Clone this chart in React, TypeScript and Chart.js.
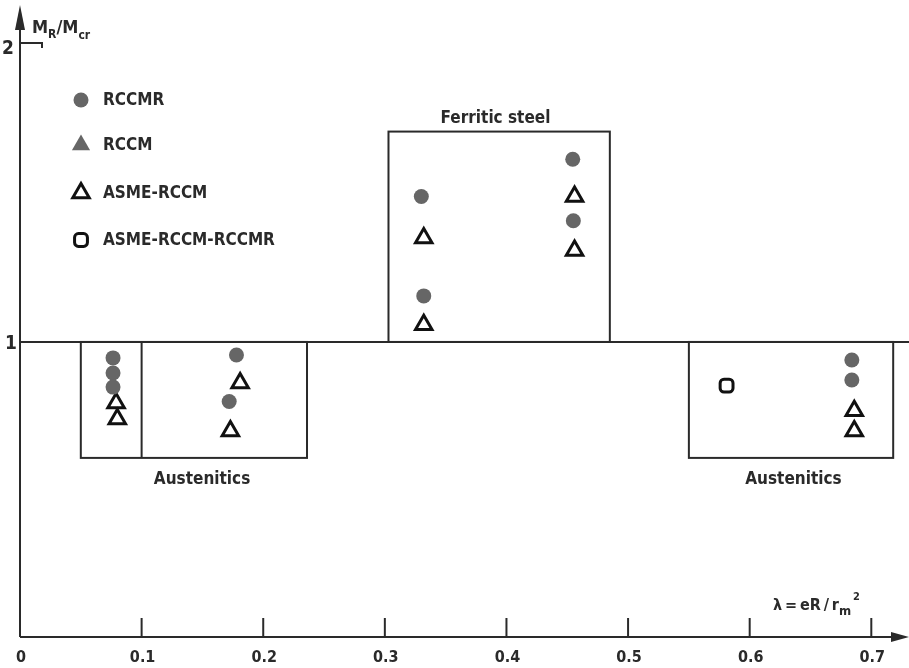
import React, { useEffect, useRef } from 'react';
import { Chart, registerables } from 'chart.js';
import { drawPoint } from 'chart.js/helpers';

Chart.register(...registerables);

// ---- data ----
const rccmrX = [0.0765, 0.0765, 0.0765, 0.178, 0.172, 0.330, 0.332, 0.4545, 0.455, 0.684, 0.684];
const rccmrY = [0.946, 0.895, 0.847, 0.956, 0.798, 1.493, 1.156, 1.619, 1.411, 0.939, 0.871];

const rccmX: number[] = [];
const rccmY: number[] = [];

const asmeX = [0.079, 0.080, 0.181, 0.173, 0.332, 0.332, 0.456, 0.456, 0.686, 0.686];
const asmeY = [0.793, 0.739, 0.861, 0.698, 1.352, 1.058, 1.493, 1.310, 0.767, 0.698];

const allX = [0.581];
const allY = [0.852];

const seriesNames = ['RCCMR', 'RCCM', 'ASME-RCCM', 'ASME-RCCM-RCCMR'];

// region boxes (data units)
const boxX0 = [0.05, 0.303, 0.55];
const boxX1 = [0.236, 0.485, 0.718];
const boxY0 = [0.607, 1.0, 0.607];
const boxY1 = [1.0, 1.713, 1.0];
const dividerX = [0.1];
const dividerY0 = [0.607];
const dividerY1 = [1.0];

const regionLabels = ['Austenitics', 'Ferritic steel', 'Austenitics'];
const regionLabelX = [0.1497, 0.391, 0.636];
const regionLabelY = [0.535, 1.756, 0.535];

const referenceY = 1;

const xTickValues = [0, 0.1, 0.2, 0.3, 0.4, 0.5, 0.6, 0.7];
const xTickLabels = ['0', '0.1', '0.2', '0.3', '0.4', '0.5', '0.6', '0.7'];
const yTickValues = [1, 2];
const yTickLabels = ['1', '2'];

const X_MAX = 0.731;
const Y_MAX = 2.142;

const INK = '#2a2a2a';
const DOT = '#666666';
const FONT = '"DejaVu Sans Condensed", "DejaVu Sans", sans-serif';

const toPts = (xs: number[], ys: number[]) => xs.map((v, i) => ({ x: v, y: ys[i] }));

const paperPlugin = {
  id: 'paper',
  beforeDatasetsDraw(chart: any) {
    const { ctx, chartArea, scales } = chart;
    const xs = scales.x;
    const ys = scales.y;
    const px = (v: number) => xs.getPixelForValue(v);
    const py = (v: number) => ys.getPixelForValue(v);
    const line = (a: number, b: number, c: number, d: number) => {
      ctx.beginPath();
      ctx.moveTo(a, b);
      ctx.lineTo(c, d);
      ctx.stroke();
    };
    ctx.save();
    ctx.strokeStyle = INK;
    ctx.fillStyle = INK;
    ctx.lineWidth = 2;
    ctx.lineCap = 'butt';

    // reference line at 1
    line(px(0), py(referenceY), chartArea.right, py(referenceY));

    // boxes
    for (let i = 0; i < boxX0.length; i++) {
      const l = px(boxX0[i]);
      const r = px(boxX1[i]);
      const t = py(boxY1[i]);
      const b = py(boxY0[i]);
      ctx.strokeRect(l, t, r - l, b - t);
    }
    for (let i = 0; i < dividerX.length; i++) {
      line(px(dividerX[i]), py(dividerY0[i]), px(dividerX[i]), py(dividerY1[i]));
    }

    // axes
    const ox = px(0);
    const oy = py(0);
    line(ox, oy, chartArea.right - 10, oy);
    line(ox, oy, ox, chartArea.top + 12);
    // arrow heads
    ctx.beginPath();
    ctx.moveTo(chartArea.right, oy);
    ctx.lineTo(chartArea.right - 18, oy - 5);
    ctx.lineTo(chartArea.right - 18, oy + 5);
    ctx.closePath();
    ctx.fill();
    ctx.beginPath();
    ctx.moveTo(ox, chartArea.top);
    ctx.lineTo(ox - 5, chartArea.top + 25);
    ctx.lineTo(ox + 5, chartArea.top + 25);
    ctx.closePath();
    ctx.fill();

    // x ticks (pointing up)
    xTickValues.forEach((v) => {
      if (v > 0) line(px(v), oy, px(v), oy - 19);
    });
    // y tick at 2 with a small hook
    const y2 = py(2) - 4;
    ctx.beginPath();
    ctx.moveTo(ox, y2);
    ctx.lineTo(ox + 22, y2);
    ctx.lineTo(ox + 22, y2 + 5);
    ctx.stroke();

    // tick labels
    ctx.font = `bold 16px ${FONT}`;
    ctx.textAlign = 'center';
    ctx.textBaseline = 'middle';
    xTickValues.forEach((v, i) => {
      ctx.fillText(xTickLabels[i], px(v) + 1, oy + 21);
    });
    ctx.font = `bold 19px ${FONT}`;
    ctx.textAlign = 'right';
    yTickValues.forEach((v, i) => {
      ctx.fillText(yTickLabels[i], ox - (v === 2 ? 6 : 3), py(v) + 2);
    });

    // region labels
    ctx.font = `bold 17px ${FONT}`;
    ctx.textAlign = 'center';
    regionLabels.forEach((t, i) => {
      ctx.fillText(t, px(regionLabelX[i]), py(regionLabelY[i]));
    });

    // y axis title M_R/M_cr
    ctx.textAlign = 'left';
    ctx.textBaseline = 'alphabetic';
    let cx = ox + 12;
    const base = 33;
    const big = `bold 18px ${FONT}`;
    const small = `bold 12px ${FONT}`;
    const seg = (t: string, f: string, dy: number) => {
      ctx.font = f;
      ctx.fillText(t, cx, base + dy);
      cx += ctx.measureText(t).width;
    };
    seg('M', big, 0);
    seg('R', small, 5);
    seg('/', big, 0);
    seg('M', big, 0);
    seg('cr', small, 6);

    // x axis title λ = eR / r_m²
    cx = 773;
    const seg2 = (t: string, f: string, y: number) => {
      ctx.font = f;
      ctx.fillText(t, cx, y);
      cx += ctx.measureText(t).width;
    };
    seg2('λ\u2009=\u2009eR\u2009/\u2009r', `bold 16px ${FONT}`, 610);
    seg2('m', `bold 13px ${FONT}`, 615);
    cx += 2;
    seg2('2', `bold 11px ${FONT}`, 600);

    ctx.restore();
  },
  afterDatasetsDraw(chart: any) {
    const { ctx } = chart;
    ctx.save();
    const lx = 81;
    const lys = [100, 145, 193, 240];
    chart.data.datasets.forEach((ds: any, i: number) => {
      ctx.fillStyle = ds.backgroundColor;
      ctx.strokeStyle = ds.borderColor;
      ctx.lineWidth = ds.borderWidth;
      drawPoint(
        ctx,
        { pointStyle: ds.pointStyle, radius: ds.legendRadius, borderWidth: ds.borderWidth, rotation: 0 },
        lx,
        lys[i]
      );
      ctx.fillStyle = INK;
      ctx.font = `bold 17px ${FONT}`;
      ctx.textAlign = 'left';
      ctx.textBaseline = 'middle';
      ctx.fillText(seriesNames[i], 103, lys[i] + 1);
    });
    ctx.restore();
  },
};

export default function App() {
  const ref = useRef<HTMLCanvasElement>(null);
  useEffect(() => {
    document.body.style.margin = '0';
    const canvas = ref.current;
    if (!canvas) return;
    const chart = new Chart(canvas, {
      type: 'scatter',
      data: {
        datasets: [
          {
            label: seriesNames[0],
            data: toPts(rccmrX, rccmrY),
            pointStyle: 'circle',
            pointRadius: 7.5,
            backgroundColor: DOT,
            borderColor: DOT,
            borderWidth: 0,
            legendRadius: 7.5,
          } as any,
          {
            label: seriesNames[1],
            data: toPts(rccmX, rccmY),
            pointStyle: 'triangle',
            pointRadius: 10,
            backgroundColor: DOT,
            borderColor: DOT,
            borderWidth: 0,
            legendRadius: 10.5,
          } as any,
          {
            label: seriesNames[2],
            data: toPts(asmeX, asmeY),
            pointStyle: 'triangle',
            pointRadius: 9.5,
            backgroundColor: 'rgba(255,255,255,0)',
            borderColor: '#111',
            borderWidth: 3,
            legendRadius: 9.5,
          } as any,
          {
            label: seriesNames[3],
            data: toPts(allX, allY),
            pointStyle: 'rectRounded',
            pointRadius: 7.5,
            backgroundColor: 'rgba(255,255,255,0)',
            borderColor: '#111',
            borderWidth: 3,
            legendRadius: 7.5,
          } as any,
        ],
      },
      options: {
        responsive: false,
        animation: false,
        layout: { autoPadding: false, padding: { left: 20, right: 0, top: 5, bottom: 31 } },
        scales: {
          x: { type: 'linear', min: 0, max: X_MAX, display: false },
          y: { type: 'linear', min: 0, max: Y_MAX, display: false },
        },
        plugins: {
          legend: { display: false },
          tooltip: { enabled: false },
        },
        elements: { point: { hoverRadius: 8 } },
      },
      plugins: [paperPlugin],
    });
    return () => chart.destroy();
  }, []);
  return (
    <div style={{ position: 'absolute', left: 0, top: 0, width: 909, height: 668, background: '#fff' }}>
      <canvas ref={ref} width={909} height={668} style={{ display: 'block' }} />
    </div>
  );
}
